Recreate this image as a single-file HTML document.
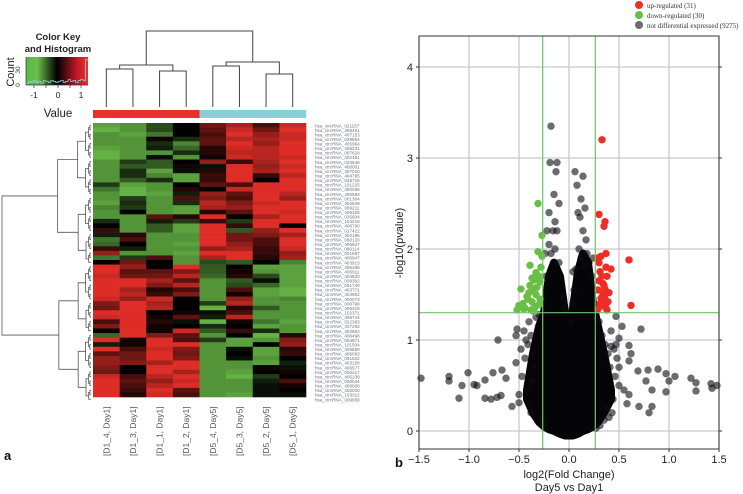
<!DOCTYPE html>
<html><head><meta charset="utf-8">
<style>
html,body{margin:0;padding:0;background:#fff;}
svg{display:block;font-family:"Liberation Sans",sans-serif;}
</style></head>
<body>
<svg id="fig" width="743" height="494" viewBox="0 0 743 494" xmlns="http://www.w3.org/2000/svg">
  <g id="heat"></g>
  <g id="volc"></g>
</svg>
<script>
// ---------- Heatmap data ----------
const sampleLabels = ["[D1_4, Day1]","[D1_3, Day1]","[D1_1, Day1]","[D1_2, Day1]","[D5_4, Day5]","[D5_3, Day5]","[D5_2, Day5]","[D5_1, Day5]"];
const groupColors = ["#e8302a","#e8302a","#e8302a","#e8302a","#86d0d8","#86d0d8","#86d0d8","#86d0d8"];
const heatValues = [
[-1.1,-1.0,-0.5,0.0,0.6,0.9,0.4,1.1],[-1.2,-1.0,-0.5,0.0,0.5,1.1,0.6,1.2],[-1.0,-1.1,-0.8,0.0,0.4,1.2,0.8,1.1],
[-1.0,-1.0,0.1,-0.3,0.5,1.0,0.9,1.1],[-1.0,-1.0,-0.3,-0.9,0.5,1.2,0.8,1.2],[-1.1,-1.0,-0.2,-0.7,0.2,1.1,1.0,1.2],
[-1.2,-1.0,-1.0,-0.3,0.2,1.0,1.0,1.2],[-1.2,-1.0,-0.1,-1.0,0.1,1.1,1.0,1.1],[-1.0,-0.4,-0.6,0.0,0.8,0.3,0.9,1.2],
[-1.0,-0.6,-0.6,0.1,-0.1,1.2,0.8,1.1],[-1.0,-0.3,-1.1,-0.1,0.2,1.2,0.9,1.2],[-1.0,-0.3,-0.9,-1.1,0.3,1.2,0.3,1.0],
[-1.0,-0.6,-0.3,-1.1,0.3,1.2,0.0,1.2],[-0.4,-1.1,-1.0,0.0,0.5,0.4,1.2,1.2],[-0.8,-1.2,-1.0,0.2,0.0,1.1,1.2,1.2],
[-1.0,-1.2,-1.1,-0.2,0.8,0.5,1.2,1.0],[-1.0,-0.4,-1.0,0.4,0.7,0.4,1.2,0.8],[-1.1,-0.3,-1.0,-0.3,1.0,0.7,1.1,1.2],
[-0.9,-0.4,-1.0,-1.1,0.9,0.8,1.2,1.2],[-1.0,0.0,-1.0,-1.1,0.2,0.5,1.2,1.1],[-1.0,-1.0,0.5,0.2,1.2,0.0,0.9,1.2],
[-0.3,-1.0,-0.2,-0.4,0.3,-0.4,1.2,1.2],[0.0,-1.0,-0.6,-1.1,1.2,0.3,1.2,0.0],[0.3,-1.0,-0.6,-1.1,1.2,-0.6,0.8,1.2],
[-0.2,0.2,-1.0,-1.0,1.2,0.6,0.7,0.9],[-0.8,0.4,-1.0,-1.0,1.2,0.6,0.4,1.2],[-0.7,0.0,-1.0,-1.1,1.2,0.8,0.4,1.2],
[0.3,-0.2,-1.0,-1.0,0.8,0.9,0.3,1.1],[0.8,-1.0,-1.0,-1.1,1.2,1.2,0.3,0.8],[-0.8,-0.4,0.4,-1.0,0.9,1.2,0.2,0.9],
[0.0,0.6,0.0,-1.0,-0.5,-0.6,0.0,-0.9],
[1.2,0.8,0.0,1.2,-0.6,0.0,-1.1,-1.1],[1.2,0.5,0.5,0.7,-0.6,0.1,-1.0,-1.1],[1.1,0.6,0.6,1.0,-0.7,0.2,-0.5,-1.1],
[1.2,1.2,0.9,0.5,-1.0,-0.6,-0.1,-1.1],[1.2,1.2,0.7,1.0,-1.0,-0.5,-0.7,-1.1],[1.2,0.9,0.2,0.4,-1.0,0.4,-1.1,-1.2],
[1.2,1.0,0.3,0.7,-1.0,0.1,-1.1,-1.2],[1.1,0.8,1.1,0.0,-1.0,0.8,-1.0,-0.9],[0.7,1.2,0.9,0.0,-0.4,1.0,-1.0,-1.0],
[0.6,1.2,1.0,0.0,-1.2,0.2,-0.6,-1.0],[1.2,1.2,0.0,0.1,-0.1,0.4,-1.0,-1.0],[1.1,1.2,0.1,0.5,-0.2,1.0,-1.0,-1.0],
[0.4,1.2,0.2,-0.1,-1.2,0.1,-0.8,-1.1],[0.7,1.2,0.1,0.0,-0.3,0.0,-1.1,-1.0],[0.0,1.2,0.1,1.1,-0.6,0.3,-0.3,-1.0],
[-0.7,1.2,0.7,0.5,-1.0,0.0,-1.2,0.2],[1.2,0.1,1.2,0.4,-0.4,-1.1,-1.0,0.7],[-0.2,0.1,1.2,1.2,-1.0,-1.1,0.0,0.8],
[1.2,0.4,1.1,0.7,-1.0,-0.1,-1.1,0.2],[0.5,0.6,1.2,0.6,-1.0,0.0,-1.1,0.3],[0.8,0.6,1.2,0.7,-1.0,-0.1,-1.0,0.0],
[0.8,0.7,0.9,1.2,-1.0,-1.0,-1.1,-0.2],[0.7,0.0,1.2,1.2,-1.0,-1.0,0.1,-0.1],[0.6,0.0,1.2,0.9,-1.0,-1.1,0.0,0.1],
[1.1,0.4,1.0,1.2,-1.0,-1.2,-0.4,0.0],[1.2,0.5,0.8,1.1,-1.0,-1.0,-0.2,0.4],[1.2,0.4,1.0,1.2,-1.0,-1.0,-0.1,0.1],
[1.2,0.3,1.2,0.5,-1.0,-1.0,-0.1,0.0],[1.2,0.2,1.1,0.4,-1.0,-1.1,-0.1,-0.1]
];
const rowIds = ["021157","406451","407153","029854","405964","406231","007628","402351","033546","406001","407010","404795","028715","101225","400068","406583","001304","402849","089211","406125","035604","104216","406790","017422","402195","060120","405627","080114","001587","406947","403913","406256","406011","404820","009362","061740","403771","404902","400073","000798","406319","102371","405744","022383","407292","402662","406498","004871","101504","405880","406063","091622","403158","406577","000217","405239","030044","406868","402030","103312","009958"];
const histCounts = [2,4,3,5,3,4,2,5,4,3,5,4,3,4,5,3,4,6,4,5,3,5,6,5,28];

// ---------- Volcano data ----------
const xTicks = [-1.5,-1.0,-0.5,0.0,0.5,1.0,1.5];
const xTickLabels = ["\u22121.5","\u22121.0","\u22120.5","0.0","0.5","1.0","1.5"];
const yTicks = [0,1,2,3,4];
const fcThreshold = 0.263;
const pThreshold = 1.3;
const upX = [0.33,0.30,0.35,0.36,0.60,0.32,0.37,0.42,0.38,0.30,0.62,0.34,0.36,0.40,0.33,0.37,0.29,0.31,0.35,0.39,0.28,0.34,0.32,0.38,0.36,0.31,0.29,0.35,0.33,0.30,0.37];
const upY = [3.20,2.38,2.25,2.30,1.88,1.92,1.80,1.78,1.70,1.65,1.38,1.50,1.45,1.52,1.38,1.35,1.55,1.75,1.60,1.42,1.90,1.62,1.46,1.33,1.56,1.40,1.34,1.48,1.70,1.85,1.95];
const downX = [-0.31,-0.27,-0.31,-0.39,-0.33,-0.48,-0.39,-0.35,-0.37,-0.52,-0.44,-0.33,-0.29,-0.30,-0.46,-0.41,-0.36,-0.28,-0.34,-0.42,-0.30,-0.38,-0.32,-0.27,-0.45,-0.40,-0.35,-0.29,-0.50,-0.37];
const downY = [2.50,2.15,1.97,1.82,1.74,1.56,1.60,1.66,1.42,1.33,1.35,1.50,1.64,1.39,1.40,1.45,1.55,1.80,1.36,1.48,1.70,1.33,1.58,1.92,1.34,1.52,1.31,1.45,1.38,1.68];
const nsX = [-0.18,-0.19,-0.12,-0.13,-0.15,-0.20,-0.10,-0.14,-0.16,-0.12,-0.20,-0.18,-0.14,-0.10,-0.22,
 0.06,0.14,0.08,0.12,0.16,0.09,0.11,0.14,0.17,0.10,0.18,0.04,0.12,0.20,0.16,0.07,
 -1.48,-1.20,-1.20,-1.07,-1.01,-1.10,-0.95,-0.92,-0.84,-0.76,-0.67,-0.63,-0.84,-0.78,-0.72,-0.68,-0.71,-0.53,-0.57,-0.50,-0.52,-0.53,
 0.72,0.60,0.62,0.60,0.50,0.69,0.79,0.89,0.97,1.00,1.06,0.83,0.97,0.77,0.80,0.83,0.70,1.22,1.27,1.27,1.42,1.43,0.47,0.42,0.53,0.47,0.50,1.48,
 -0.45,-0.43,-0.48,-0.44,-0.47,-0.42,-0.50,0.42,0.45,0.48,0.46,0.50,0.55,0.60,0.58,0.43,0.40,-0.38,-0.40,-0.24,0.24,-0.23,0.23,
 -0.40,-0.38,-0.36,-0.34,-0.41,-0.37,-0.33,-0.30,-0.28,-0.25,0.30,0.33,0.36,0.39,0.41,0.44,0.38,0.35,0.31,0.27,-0.06,0.04,-0.03,0.05,0.02,-0.05];
const nsY = [3.35,2.95,2.95,2.85,2.60,2.40,2.50,2.30,2.20,2.20,2.05,1.95,2.00,1.85,2.20,
 2.85,2.80,2.70,2.55,2.45,2.40,2.35,2.20,2.10,2.00,1.95,1.75,1.90,1.85,1.80,1.78,
 0.58,0.60,0.55,0.50,0.64,0.36,0.51,0.50,0.56,0.64,0.67,0.58,0.36,0.35,0.37,0.39,1.00,0.75,0.27,0.31,1.12,1.05,
 1.12,0.94,0.85,0.77,0.70,0.66,0.67,0.68,0.63,0.55,0.60,0.45,0.43,0.55,0.20,0.27,0.27,0.58,0.53,0.44,0.52,0.47,0.95,0.93,1.15,1.26,1.02,0.50,
 1.10,1.00,0.90,0.80,0.60,0.45,0.40,1.10,0.90,0.80,0.60,0.50,0.45,0.40,0.30,0.20,0.15,0.20,0.30,1.95,1.90,1.70,1.70,
 1.20,1.05,0.85,0.70,0.95,0.55,1.25,1.28,0.15,0.08,1.20,1.05,0.95,0.85,0.70,0.35,0.25,0.12,0.06,0.03,1.45,1.40,1.30,1.55,1.20,1.35];
// dense core envelope (upper / lower bound of the overplotted region)
const coreX = [-0.42,-0.36,-0.30,-0.25,-0.20,-0.15,-0.09,-0.04,0.0,0.04,0.09,0.14,0.19,0.24,0.29,0.35,0.42];
const coreTop = [0.45,0.85,1.15,1.30,1.70,1.85,1.70,1.30,1.05,1.35,1.75,1.95,1.85,1.40,1.15,0.85,0.45];
const coreBottom = [0.35,0.20,0.10,0.05,0.02,0.0,-0.03,-0.05,-0.05,-0.05,-0.03,0.0,0.02,0.05,0.10,0.20,0.35];

const NS = "http://www.w3.org/2000/svg";
function mk(tag, attrs, parent){const e=document.createElementNS(NS,tag);for(const k in attrs)e.setAttribute(k,attrs[k]);parent.appendChild(e);return e;}

// ---------- Heatmap ----------
const H = document.getElementById('heat');
const hx0=93, hx1=306, hy0=123, hy1=397;
const nCols = sampleLabels.length, nRows = heatValues.length;
const cw=(hx1-hx0)/nCols, rh=(hy1-hy0)/nRows;
function colX(i){return hx0+cw*i;}
function rowY(j){return hy0+rh*j;}
function heatColor(v){
  const t=Math.max(-1.3,Math.min(1.3,v))/1.3;
  if(t<0){const a=-t;return `rgb(${Math.round(108*a)},${Math.round(192*a)},${Math.round(74*a)})`;}
  return `rgb(${Math.round(240*t)},${Math.round(49*t)},${Math.round(42*t)})`;
}
heatValues.forEach((row,j)=>row.forEach((v,i)=>{
  const r=mk('rect',{x:colX(i),y:rowY(j),width:cw+0.3,height:rh+0.3,fill:heatColor(v)},H);
  
  
}));
groupColors.forEach((c,i)=>{
  const r=mk('rect',{x:colX(i),y:110,width:cw+0.3,height:8,fill:c},H);
  
  
});
sampleLabels.forEach((s,i)=>{
  const cx=colX(i)+cw/2+3;
  const t=mk('text',{x:0,y:0,transform:`translate(${cx},456) rotate(-90)`,'font-size':8.5,fill:'#555'},H);
  t.textContent=s;
  
  
});
rowIds.forEach((id,j)=>{
  const t=mk('text',{x:315,y:rowY(j)+rh-0.3,'font-size':4.6,fill:'#6a7080'},H);
  t.textContent='hsa_circRNA_'+id;
  
  
});
const cc=i=>colX(i)+cw/2;
const cd=[[cc(0),69,cc(1),69,107],[cc(2),71,cc(3),71,107],[cc(4),66,cc(5),66,107],[cc(6),74,cc(7),74,107]];
const dg=mk('g',{stroke:'#444','stroke-width':1,fill:'none'},H);


cd.forEach(d=>mk('path',{d:`M${d[0]},${d[4]}V${d[1]}H${d[2]}V${d[4]}`},dg));
mk('path',{d:`M${(cc(0)+cc(1))/2},69V65H${(cc(2)+cc(3))/2}V71`},dg);
mk('path',{d:`M${(cc(4)+cc(5))/2},66V62H${(cc(6)+cc(7))/2}V74`},dg);
const L=((cc(0)+cc(1))/2+(cc(2)+cc(3))/2)/2, R=((cc(4)+cc(5))/2+(cc(6)+cc(7))/2)/2;
mk('path',{d:`M${L},65V31H${R}V62`},dg);
const rg=mk('g',{stroke:'#555','stroke-width':0.8,fill:'none'},H);


function tree(a,b,depth){
  if(a===b) return {y:rowY(a)+rh/2,x:hx0-2};
  const m=Math.floor((a+b)/2);
  const l=tree(a,m,depth+1), r=tree(m+1,b,depth+1);
  const x=Math.min(l.x,r.x)-Math.max(3,(b-a)*0.9)/(1+depth*0.35);
  mk('path',{d:`M${l.x},${l.y}H${x}V${r.y}H${r.x}`},rg);
  return {x:x,y:(l.y+r.y)/2};
}
const t1=tree(0,30,1), t2=tree(31,60,1);
mk('path',{d:`M${t1.x},${t1.y}H2V${t2.y}H${t2.x}`},rg);

const ck=mk('g',{},H);


const defs=mk('defs',{},ck);
const lg=mk('linearGradient',{id:'kg',x1:0,x2:1,y1:0,y2:0},defs);
[['0','#52b848'],['0.18','#6cc04a'],['0.5','#000'],['0.82','#c0182a'],['1','#f0312a']].forEach(s=>mk('stop',{offset:s[0],'stop-color':s[1]},lg));
mk('rect',{x:26,y:57,width:62,height:28,fill:'url(#kg)'},ck);
let hp='M26,85';
histCounts.forEach((c,i)=>{const x=26+i*62/histCounts.length;const y=85-c*0.9;hp+=`V${y}H${x+62/histCounts.length}`;});
mk('path',{d:hp,stroke:'#8dd0dc','stroke-width':0.8,fill:'none'},ck);
const kt=(x,y,s,fs,w,an)=>{const t=mk('text',{x:x,y:y,'font-size':fs,'font-weight':w||'normal','text-anchor':an||'middle',fill:'#222'},ck);t.textContent=s;return t;};
kt(58,40,'Color Key',9.5,'bold');kt(58,52,'and Histogram',9.5,'bold');
kt(34,98,'-1',8.5);kt(58,98,'0',8.5);kt(81,98,'1',8.5);
[34,46,58,70,81].forEach(x=>mk('line',{x1:x,x2:x,y1:85,y2:88,stroke:'#333','stroke-width':0.7},ck));
mk('line',{x1:26,x2:88,y1:85,y2:85,stroke:'#333','stroke-width':0.7},ck);
mk('line',{x1:26,x2:26,y1:57,y2:85,stroke:'#333','stroke-width':0.7},ck);
const c1=mk('text',{transform:'translate(20,85) rotate(-90)','font-size':6.5,fill:'#333','text-anchor':'middle'},ck);c1.textContent='0';
const c2=mk('text',{transform:'translate(20,70) rotate(-90)','font-size':6.5,fill:'#333','text-anchor':'middle'},ck);c2.textContent='30';
const c3=mk('text',{transform:'translate(14,72) rotate(-90)','font-size':11,fill:'#222','text-anchor':'middle'},ck);c3.textContent='Count';
const vt=kt(58,117,'Value',11.5);
const pa=mk('text',{x:4,y:460,'font-size':13,'font-weight':'bold',fill:'#111'},H);pa.textContent='a';


// ---------- Volcano ----------
const V=document.getElementById('volc');
const px0=419, px1=719, py0=36, py1=449;
const xs=v=>569+100*v;
const ys=v=>431-91*v;
mk('rect',{x:px0,y:py0,width:px1-px0,height:py1-py0,fill:'#fff'},V);
const grid=mk('g',{stroke:'#c9c9ce','stroke-width':1.3},V);

xTicks.forEach(v=>mk('line',{x1:xs(v),x2:xs(v),y1:py0,y2:py1},grid));
yTicks.forEach(v=>mk('line',{x1:px0,x2:px1,y1:ys(v),y2:ys(v)},grid));
let cp='M'+xs(coreX[0])+','+ys(coreTop[0]);
coreX.forEach((x,i)=>{cp+='L'+xs(x)+','+ys(coreTop[i]);});
for(let i=coreX.length-1;i>=0;i--){cp+='L'+xs(coreX[i])+','+ys(coreBottom[i]);}
const core=mk('path',{d:cp+'Z',fill:'#050508',stroke:'#050508','stroke-width':8,'stroke-linejoin':'round'},V);

function dots(X,Y,fill,op,name){
  const g=mk('g',{},V);
  
  X.forEach((x,i)=>{const c=mk('circle',{cx:xs(x),cy:ys(Y[i]),r:3.7,fill:fill,'fill-opacity':op},g);
    });
}
dots(nsX,nsY,'#0a0a10',0.6,'not-differential');
dots(downX,downY,'#69bf45',1,'down-regulated');
dots(upX,upY,'#ee2d27',1,'up-regulated');
const th=mk('g',{stroke:'#6cc56c','stroke-width':1.2},V);

mk('line',{x1:xs(-fcThreshold),x2:xs(-fcThreshold),y1:py0,y2:py1},th);
mk('line',{x1:xs(fcThreshold),x2:xs(fcThreshold),y1:py0,y2:py1},th);
mk('line',{x1:px0,x2:px1,y1:ys(pThreshold),y2:ys(pThreshold)},th);
mk('rect',{x:px0,y:py0,width:px1-px0,height:py1-py0,fill:'none',stroke:'#333','stroke-width':1},V);
xTicks.forEach((v,i)=>{
  mk('line',{x1:xs(v),x2:xs(v),y1:py1,y2:py1+3,stroke:'#333'},V);
  const t=mk('text',{x:xs(v),y:463,'font-size':11,'text-anchor':'middle',fill:'#222'},V);
  t.textContent=xTickLabels[i];
});
yTicks.forEach(v=>{
  mk('line',{x1:px0-3,x2:px0,y1:ys(v),y2:ys(v),stroke:'#333'},V);
  mk('line',{x1:px1,x2:px1+3,y1:ys(v),y2:ys(v),stroke:'#333'},V);
  const t=mk('text',{x:413,y:ys(v)+4,'font-size':11,'text-anchor':'end',fill:'#222'},V);
  t.textContent=String(v);
});
const xt1=mk('text',{x:569,y:478,'font-size':11,'text-anchor':'middle',fill:'#222'},V);xt1.textContent='log2(Fold Change)';

const xt2=mk('text',{x:569,y:491,'font-size':11,'text-anchor':'middle',fill:'#222'},V);xt2.textContent='Day5 vs Day1';

const yt=mk('text',{transform:'translate(403,243) rotate(-90)','font-size':11,'text-anchor':'middle',fill:'#222'},V);yt.textContent='-log10(pvalue)';

const pb=mk('text',{x:395,y:467,'font-size':13,'font-weight':'bold',fill:'#111'},V);pb.textContent='b';

const legendItems=[['up-regulated (31)','#ee2d27'],['down-regulated (30)','#69bf45'],['not differential expressed (9275)','#6b6b70']];
legendItems.forEach((it,i)=>{
  const g=mk('g',{},V);
  
  mk('circle',{cx:639,cy:5+10*i,r:4,fill:it[1]},g);
  const t=mk('text',{x:647,y:8+10*i,'font-size':7,fill:'#333','font-family':'Liberation Serif, serif'},g);t.textContent=it[0];
});
</script>
</body></html>
